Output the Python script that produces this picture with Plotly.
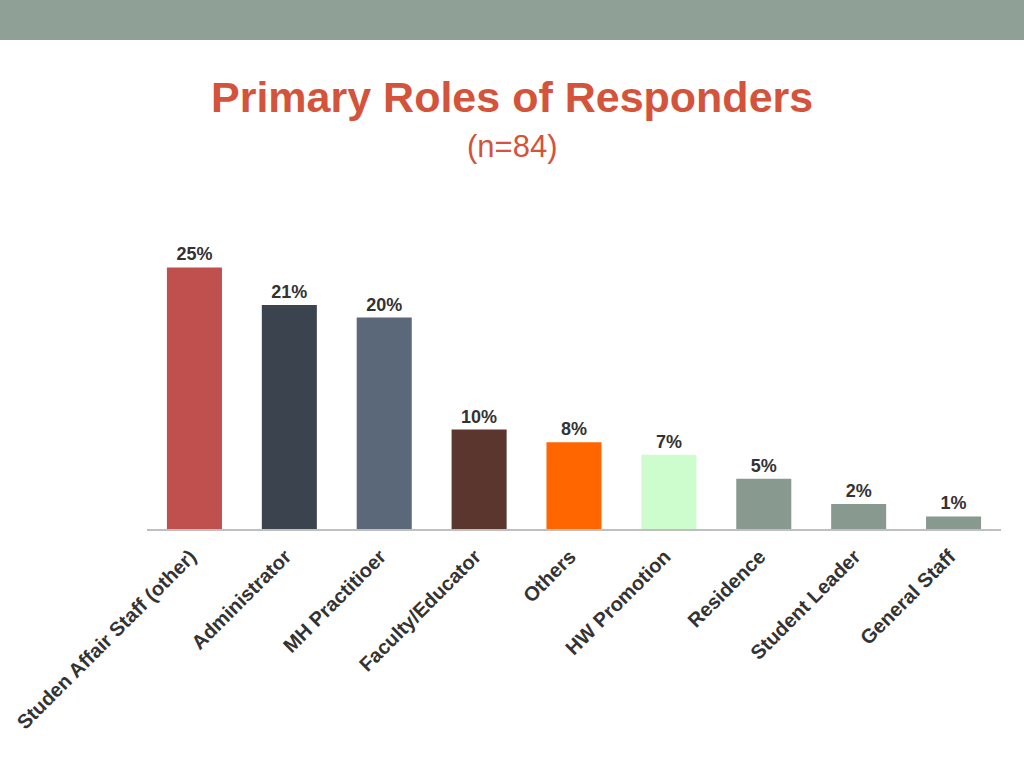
import plotly.graph_objects as go

categories = ["Studen Affair Staff (other)", "Administrator", "MH Practitioer",
              "Faculty/Educator", "Others", "HW Promotion", "Residence",
              "Student Leader", "General Staff"]
values = [25.0, 21.4, 20.2, 9.5, 8.3, 7.1, 4.8, 2.4, 1.2]
labels = ["25%", "21%", "20%", "10%", "8%", "7%", "5%", "2%", "1%"]
colors = ["#c0504d", "#3a434e", "#5b6879", "#5b362f", "#ff6600",
          "#cdfccd", "#889a90", "#889a90", "#889a90"]

W, H = 1024, 768
L, R, T, B = 147, 23, 236, 239
plot_h = H - T - B

fig = go.Figure(go.Bar(
    x=categories, y=values, text=labels,
    textposition="outside", cliponaxis=False,
    textfont=dict(family="Liberation Sans, Arial, sans-serif", size=18, color="#333333", weight="bold"),
    marker=dict(color=colors, line=dict(width=0)),
    hoverinfo="skip",
))

def py(ypx):
    return (H - B - ypx) / plot_h

fig.update_layout(
    width=W, height=H,
    margin=dict(l=L, r=R, t=T, b=B, autoexpand=False),
    paper_bgcolor="white", plot_bgcolor="white",
    bargap=0.42, showlegend=False,
    xaxis=dict(showline=True, linecolor="#bfbfbf", linewidth=2, ticks="",
               tickangle=-45, showgrid=False, zeroline=False,
               ticklabelstandoff=6, ticklabelshift=-4,
               tickfont=dict(family="Liberation Sans, Arial, sans-serif", size=20, color="#333333", weight="bold")),
    yaxis=dict(range=[0, 28], visible=False, showgrid=False, zeroline=False),
    shapes=[dict(type="rect", xref="paper", yref="paper",
                 x0=-L / (W - L - R), x1=(W - L) / (W - L - R),
                 y0=py(40), y1=py(0), fillcolor="#8fa197", line=dict(width=0), layer="below")],
    annotations=[
        dict(text="<b>Primary Roles of Responders</b>", xref="paper", yref="paper",
             x=(512 - L) / (W - L - R), y=py(97), xanchor="center", yanchor="middle",
             showarrow=False,
             font=dict(family="Liberation Sans, Arial, sans-serif", size=43, color="#d4533b")),
        dict(text="(n=84)", xref="paper", yref="paper",
             x=(512 - L) / (W - L - R), y=py(146), xanchor="center", yanchor="middle",
             showarrow=False,
             font=dict(family="Liberation Sans, Arial, sans-serif", size=31, color="#d4533b")),
    ],
)

fig.write_html("out.html", config={"displayModeBar": False},
               post_script="document.body.style.margin='0';document.body.style.overflow='hidden';")
